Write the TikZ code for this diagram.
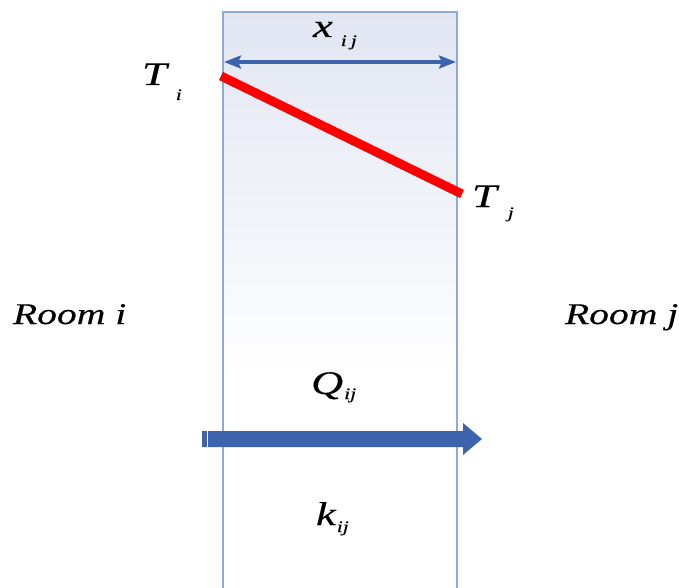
\documentclass[tikz,border=0pt]{standalone}
\usepackage{fontspec}
\setmainfont{Liberation Serif}
\newfontface\lblit{Liberation Serif Italic}[FakeBold=0.25]
\usetikzlibrary{arrows.meta}
\definecolor{wallline}{HTML}{8FA9DB}
\definecolor{walltop}{HTML}{E2E6F3}
\definecolor{flowblue}{HTML}{3C63AC}
\definecolor{gradred}{HTML}{FF0000}
\newcommand{\bigit}[1]{\scalebox{1.35}[1]{\fontsize{33}{33}\lblit #1}}
\newcommand{\subit}[1]{\scalebox{1.35}[1]{\fontsize{16}{16}\lblit #1}}
\tikzset{
  lbl/.style={inner sep=0pt, outer sep=0pt, anchor=base west},
  wall/.style={draw=wallline, line width=1.2pt},
}
\begin{document}
\begin{tikzpicture}[x=1pt,y=-1pt]
\useasboundingbox (0,0) rectangle (679,588);
% wall fill
\shade[top color=walltop, bottom color=white] (223,12) rectangle (457,380);
\coordinate (wl) at (223,12);
\coordinate (wr) at (457,12);
\draw[wall] (223,588) -- (wl) -- (wr) -- (457,588);
% thickness dimension
\coordinate (dl) at (224,62);
\coordinate (dr) at (456,62);
\draw[flowblue, line width=3.8pt, {Stealth[length=17pt,width=13pt,inset=3pt]}-{Stealth[length=17pt,width=13pt,inset=3pt]}] (dl) -- (dr);
% temperature profile
\coordinate (ti) at (221,76);
\coordinate (tj) at (462,194);
\draw[gradred, line width=9pt] (ti) -- (tj);
% heat flow arrow
\fill[flowblue] (202,431) -- (463,431) -- (463,423) -- (482,439) -- (463,455) -- (463,447) -- (202,447) -- cycle;
\draw[white, line width=0.8pt] (207,431) -- (207,447);
% labels
\node[lbl] (Ti) at (142,85) {\bigit{T}\kern9pt\raisebox{-15pt}{\subit{i}}};
\node[lbl] (xij) at (313,37) {\bigit{x}\kern8pt\raisebox{-9pt}{\subit{i\kern3pt j}}};
\node[lbl] (Tj) at (472,207) {\bigit{T}\kern11pt\raisebox{-11pt}{\subit{j}}};
\node[lbl] (Qij) at (311,394) {\bigit{Q}\kern1pt\raisebox{-5pt}{\subit{ij}}};
\node[lbl] (kij) at (316,525) {\bigit{k}\kern1pt\raisebox{-7pt}{\subit{ij}}};
\node[lbl] (rmi) at (13,324) {\scalebox{1.32}[1]{\fontsize{30}{30}\lblit Room i}};
\node[lbl] (rmj) at (565,324) {\scalebox{1.32}[1]{\fontsize{30}{30}\lblit Room j}};
\end{tikzpicture}
\end{document}
